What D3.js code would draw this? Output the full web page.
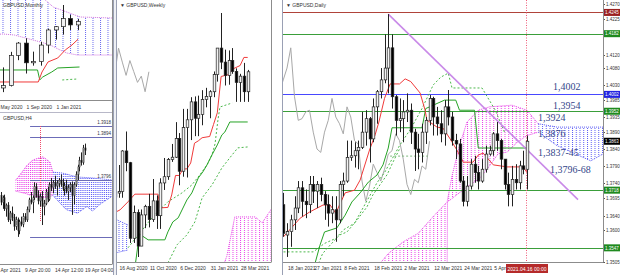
<!DOCTYPE html>
<html>
<head>
<meta charset="utf-8">
<script src="https://cdn.jsdelivr.net/npm/d3@7/dist/d3.min.js"></script>
<style>
body { margin: 0; background: #fff; }
</style>
</head>
<body>
<svg id="chart" width="620" height="275"></svg>
<script>
// ---------------- data ----------------
// monthly GBPUSD
var monthlyDates = ["2020-05","2020-06","2020-07","2020-08","2020-09","2020-10","2020-11","2020-12","2021-01","2021-02","2021-03","2021-04"];
var monthlyOHLC = [
  [1.2470,1.2525,1.2075,1.2345],[1.2345,1.2815,1.2250,1.2400],[1.2400,1.3170,1.2380,1.3090],
  [1.3090,1.3395,1.2980,1.3370],[1.3370,1.3480,1.2675,1.2920],[1.2920,1.3175,1.2855,1.2950],
  [1.2950,1.3400,1.2855,1.3325],[1.3325,1.3700,1.3135,1.3670],[1.3670,1.3760,1.3450,1.3745],
  [1.3745,1.4240,1.3565,1.3930],[1.3930,1.4015,1.3670,1.3785],[1.3785,1.3920,1.3670,1.3863]
];
var monthlyTicks = [["2020-05","May 2020"],["2020-09","1 Sep 2020"],["2021-01","1 Jan 2021"]];
var monthlyTenkan = [[-1,1.2482],[5.7,1.2482],[6.2,1.2710],[7,1.2939],[8.3,1.3030],[9.3,1.3213],[10.2,1.3327],[11,1.3458]];
var monthlyKijun = [[-1,1.2756],[5.6,1.2756],[5.9,1.2530],[6.3,1.2596],[7.5,1.2710],[8.3,1.2802],[11.2,1.2824]];
var monthlyDotted = [[8.9,1.2528],[10.9,1.2550]];
var monthlyCloudTop = [[-1,1.4700],[6,1.4450],[7.7,1.4194],[9.5,1.4080],[11.3,1.3966],[15.5,1.3943]];
var monthlyCloudBottom = [[-1,1.3555],[1,1.3578],[2.5,1.3555],[6,1.3395],[7.3,1.3327],[8.6,1.3213],[9.5,1.3144],[10.9,1.3098],[15.5,1.3098]];

// weekly GBPUSD
var weeklyDates = ["2020-08-09","2020-08-16","2020-08-23","2020-08-30","2020-09-06","2020-09-13","2020-09-20","2020-09-27",
  "2020-10-04","2020-10-11","2020-10-18","2020-10-25","2020-11-01","2020-11-08","2020-11-15","2020-11-22","2020-11-29",
  "2020-12-06","2020-12-13","2020-12-20","2020-12-27","2021-01-03","2021-01-10","2021-01-17","2021-01-24","2021-01-31",
  "2021-02-07","2021-02-14","2021-02-21","2021-02-28","2021-03-07","2021-03-14","2021-03-21","2021-03-28","2021-04-04","2021-04-11"];
var weeklyOHLC = [
  [1.3060,1.3145,1.2980,1.3090],[1.3085,1.3265,1.3055,1.3095],[1.3095,1.3360,1.3055,1.3355],[1.3355,1.3480,1.3225,1.3280],
  [1.3280,1.3285,1.2765,1.2795],[1.2795,1.3005,1.2765,1.2960],[1.2960,1.2980,1.2675,1.2745],[1.2745,1.2980,1.2745,1.2945],
  [1.2945,1.3010,1.2860,1.3000],[1.3000,1.3080,1.2865,1.2915],[1.2915,1.3175,1.2900,1.3035],[1.3035,1.3070,1.2855,1.2940],
  [1.2940,1.3180,1.2855,1.3150],[1.3150,1.3310,1.3105,1.3190],[1.3190,1.3310,1.3170,1.3300],[1.3300,1.3400,1.3285,1.3315],
  [1.3315,1.3540,1.3310,1.3435],[1.3435,1.3470,1.3135,1.3225],[1.3225,1.3625,1.3190,1.3505],[1.3505,1.3625,1.3185,1.3555],
  [1.3555,1.3700,1.3425,1.3670],[1.3670,1.3705,1.3450,1.3565],[1.3565,1.3710,1.3450,1.3590],[1.3590,1.3745,1.3520,1.3685],
  [1.3685,1.3760,1.3635,1.3705],[1.3705,1.3745,1.3565,1.3735],[1.3735,1.3865,1.3700,1.3845],[1.3845,1.4015,1.3800,1.4015],
  [1.4015,1.4240,1.3880,1.3925],[1.3925,1.4005,1.3775,1.3840],[1.3840,1.4000,1.3780,1.3935],[1.3935,1.4015,1.3850,1.3865],
  [1.3865,1.3885,1.3670,1.3795],[1.3795,1.3850,1.3670,1.3835],[1.3835,1.3920,1.3670,1.3735],[1.3735,1.3875,1.3670,1.3863]
];
var weeklyTicks = [["2020-08-16","16 Aug 2020"],["2020-10-11","11 Oct 2020"],["2020-12-06","6 Dec 2020"],["2021-01-31","31 Jan 2021"],["2021-03-28","28 Mar 2021"]];
var weeklyTenkan = [[0,1.2960],[1.4,1.2977],[3.5,1.3029],[5.3,1.3078],[11.4,1.3078],[11.9,1.2990],[14,1.2993],[15,1.3073],[16,1.3198],[17,1.3198],
  [18,1.3240],[19,1.3240],[20,1.3278],[21,1.3405],[22,1.3420],[23,1.3440],[25,1.3448],[26,1.3525],[27,1.3600],[28,1.3833],[30,1.3845],
  [31,1.3880],[33,1.3903],[34,1.3955],[35,1.3955]];
var weeklyKijun = [[5.5,1.2640],[6.5,1.2823],[8.8,1.2785],[13.2,1.2785],[14,1.2836],[15.3,1.2900],[16.7,1.2926],[19,1.3041],[20.3,1.3086],
  [22,1.3182],[23.2,1.3221],[24.3,1.3266],[25.6,1.3330],[27,1.3394],[28.2,1.3458],[29,1.3477],[30.3,1.3541],[35,1.3541]];
var weeklyDotA = [[3.5,1.2734],[9.8,1.2926],[14,1.3029],[17.7,1.3086],[20.3,1.3137],[22.4,1.3202],[24.3,1.3266],[25.6,1.3330],[26.4,1.3400],
  [27.2,1.3560],[27.7,1.3637],[30.9,1.3663]];
var weeklyDotB = [[14,1.2637],[16.4,1.2753],[19,1.2817],[21.1,1.2900],[23,1.3054],[25.6,1.3137],[28.2,1.3246],[30.9,1.3330],[32.4,1.3375],[35,1.3381]];
var weeklyPinkTop = [[28,1.2580],[29.5,1.2680],[30.5,1.2800],[31.6,1.2932],[37,1.2932],[38.8,1.2894],[42,1.3010]];
var weeklyPinkBottom = [[28,1.2580],[42,1.2580]];
var weeklyBlueTop = [[0,1.2920],[3.5,1.2880]];
var weeklyBlueBottom = [[0,1.2700],[3.5,1.2720]];

// daily GBPUSD
var dailyDates = ["2021-01-14","2021-01-15","2021-01-18","2021-01-19","2021-01-20","2021-01-21","2021-01-22","2021-01-25","2021-01-26",
  "2021-01-27","2021-01-28","2021-01-29","2021-02-01","2021-02-02","2021-02-03","2021-02-04","2021-02-05","2021-02-08","2021-02-09",
  "2021-02-10","2021-02-11","2021-02-12","2021-02-15","2021-02-16","2021-02-17","2021-02-18","2021-02-19","2021-02-22","2021-02-23",
  "2021-02-24","2021-02-25","2021-02-26","2021-03-01","2021-03-02","2021-03-03","2021-03-04","2021-03-05","2021-03-08","2021-03-09",
  "2021-03-10","2021-03-11","2021-03-12","2021-03-15","2021-03-16","2021-03-17","2021-03-18","2021-03-19","2021-03-22","2021-03-23",
  "2021-03-24","2021-03-25","2021-03-26","2021-03-29","2021-03-30","2021-03-31","2021-04-01","2021-04-02","2021-04-05","2021-04-06",
  "2021-04-07","2021-04-08","2021-04-09","2021-04-12","2021-04-13","2021-04-14","2021-04-15","2021-04-16"];
var dailyOHLC = [
  [1.3665,1.3710,1.3605,1.3675],[1.3675,1.3710,1.3580,1.3590],[1.3585,1.3620,1.3520,1.3595],[1.3595,1.3645,1.3550,1.3630],
  [1.3630,1.3700,1.3600,1.3665],[1.3665,1.3745,1.3650,1.3725],[1.3725,1.3745,1.3640,1.3685],[1.3685,1.3720,1.3635,1.3675],
  [1.3675,1.3760,1.3650,1.3735],[1.3735,1.3760,1.3680,1.3715],[1.3715,1.3745,1.3665,1.3735],[1.3735,1.3755,1.3685,1.3705],
  [1.3705,1.3715,1.3630,1.3675],[1.3675,1.3705,1.3610,1.3650],[1.3650,1.3700,1.3620,1.3660],[1.3660,1.3700,1.3565,1.3630],
  [1.3630,1.3745,1.3620,1.3735],[1.3735,1.3770,1.3700,1.3745],[1.3745,1.3865,1.3740,1.3815],[1.3815,1.3865,1.3805,1.3820],
  [1.3820,1.3860,1.3785,1.3835],[1.3835,1.3865,1.3780,1.3845],[1.3845,1.3950,1.3840,1.3890],[1.3890,1.3955,1.3850,1.3930],
  [1.3930,1.3935,1.3800,1.3870],[1.3870,1.3990,1.3860,1.3965],[1.3965,1.4015,1.3915,1.4010],[1.4010,1.4080,1.3990,1.4045],
  [1.4045,1.4180,1.4035,1.4080],[1.4080,1.4240,1.4005,1.4140],[1.4140,1.4180,1.3960,1.3995],[1.3995,1.4000,1.3880,1.3925],
  [1.3925,1.3990,1.3890,1.3930],[1.3930,1.3985,1.3860,1.3950],[1.3950,1.4005,1.3920,1.3955],[1.3955,1.3975,1.3855,1.3890],
  [1.3890,1.3900,1.3775,1.3840],[1.3840,1.3885,1.3780,1.3830],[1.3830,1.3915,1.3800,1.3890],[1.3890,1.3935,1.3855,1.3925],
  [1.3925,1.4000,1.3910,1.3990],[1.3990,1.3995,1.3880,1.3935],[1.3935,1.3965,1.3880,1.3915],[1.3915,1.3955,1.3860,1.3885],
  [1.3885,1.3985,1.3850,1.3965],[1.3965,1.4015,1.3910,1.3935],[1.3935,1.3950,1.3850,1.3865],[1.3865,1.3885,1.3810,1.3855],
  [1.3855,1.3870,1.3740,1.3745],[1.3745,1.3760,1.3670,1.3685],[1.3685,1.3760,1.3670,1.3730],[1.3730,1.3810,1.3720,1.3795],
  [1.3795,1.3820,1.3740,1.3770],[1.3770,1.3790,1.3720,1.3745],[1.3745,1.3810,1.3740,1.3780],[1.3780,1.3850,1.3770,1.3825],
  [1.3825,1.3850,1.3820,1.3835],[1.3835,1.3890,1.3820,1.3885],[1.3885,1.3920,1.3835,1.3865],[1.3865,1.3870,1.3780,1.3810],
  [1.3810,1.3810,1.3720,1.3735],[1.3735,1.3770,1.3670,1.3705],[1.3705,1.3790,1.3670,1.3750],[1.3750,1.3795,1.3720,1.3740],
  [1.3740,1.3805,1.3720,1.3790],[1.3790,1.3835,1.3765,1.3780],[1.3780,1.3880,1.3720,1.3863]
];
var dailyTicks = [["2021-01-18","18 Jan 2021"],["2021-01-27","27 Jan 2021"],["2021-02-08","8 Feb 2021"],["2021-02-18","18 Feb 2021"],
  ["2021-03-02","2 Mar 2021"],["2021-03-12","12 Mar 2021"],["2021-03-24","24 Mar 2021"],["2021-04-05","5 Apr 2021"]];
var dailyCursorDate = "2021-04-16";
var dailyCursorLabel = "2021.04.16 00:00";
var dailyPriceTicks = [1.4270,1.4225,1.4120,1.4080,1.4030,1.3985,1.3935,1.3890,1.3840,1.3790,1.3740,1.3695,1.3640,1.3600,1.3505];
var dailyLevels = [1.4245,1.4182,1.4002,1.3952,1.3718,1.3547];
var dailyLastPrice = 1.3863;
var dailyTrend = [[29,1.4240],[79.6,1.3690]];
var dailyNotes = [["1,4002",72.9,1.4024],["1,3954",72.9,1.3970],["1,3924",68.9,1.3932],["1,3876",68.9,1.3887],
  ["1,3837-45",68.9,1.3831],["1,3796-68",72.1,1.3778]];
var dailyTenkan = [[1,1.3579],[5.5,1.3635],[8,1.3653],[11.6,1.3674],[13.5,1.3674],[15,1.3650],[17.5,1.3710],[20,1.3718],[21.5,1.3748],
  [24,1.3837],[25.5,1.3882],[26.5,1.3920],[28,1.3990],[29.5,1.4033],[32,1.4033],[33.5,1.4048],[35,1.4040],[37.5,1.4006],[38.8,1.3956],
  [39.3,1.3926],[42,1.3905],[43.6,1.3902],[45.5,1.3870],[47.3,1.3837],[49,1.3801],[51.6,1.3801],[53,1.3822],[54.3,1.3828],[57,1.3793],
  [60.7,1.3787],[65,1.3787],[66,1.3770]];
var dailyKijun = [[9,1.3490],[9.5,1.3502],[10.8,1.3555],[12,1.3594],[15.3,1.3606],[17.5,1.3644],[19.3,1.3683],[21.5,1.3710],[23.7,1.3742],
  [26,1.3763],[27.6,1.3793],[29,1.3843],[30,1.3903],[38,1.3903],[39,1.3960],[44,1.3985],[47,1.3985],[48,1.3955],[52,1.3955],[53,1.3843],[66,1.3843]];
var dailyDotA = [[0,1.3535],[9,1.3535],[12,1.3560],[15,1.3575],[17,1.3600],[20,1.3620],[22,1.3660],[24,1.3700],[26,1.3740],[28,1.3770],
  [30,1.3810],[32,1.3850],[35,1.3900],[38,1.3960],[41,1.4030],[43,1.4053],[45,1.4065],[46,1.4021],[54,1.4021],[57.5,1.3956],[60,1.3890]];
var dailyDotB = [[10,1.3490],[11.5,1.3530],[13.5,1.3555],[16,1.3585],[18,1.3594],[20.7,1.3630],[23.3,1.3668],[24.9,1.3704],[26.8,1.3734],
  [28.7,1.3764],[30.3,1.3802],[32,1.3840]];
var dailyDotC = [[29.5,1.3819],[39.5,1.3819]];
var dailyPinkTop = [[26,1.3490],[29,1.3530],[33,1.3565],[37,1.3590],[41,1.3640],[44.7,1.3683],[46,1.3760],[48,1.3850],[50,1.3920],
  [53,1.3955],[56,1.3965],[62,1.3970],[66,1.3955],[69,1.3915]];
var dailyPinkBottom = [[26,1.3480],[44.7,1.3480],[44.8,1.3683],[48.4,1.3714],[51,1.3735],[53.5,1.3754],[56,1.3790],[58.3,1.3826],
  [60.7,1.3831],[63.4,1.3860],[66,1.3880],[69,1.3890]];
var dailyBlueTop = [[69,1.3915],[74,1.3905],[87,1.3905]];
var dailyBlueBottom = [[69,1.3890],[74,1.3850],[80,1.3820],[83,1.3805],[87,1.3830]];

// H4 GBPUSD (first row is bar -13, bar 0 = 9 Apr 20:00)
var h4FirstBar = -13;
var h4OHLC = [
  [1.3760,1.3768,1.3738,1.3745],[1.3745,1.3760,1.3730,1.3755],[1.3755,1.3762,1.3725,1.3730],[1.3730,1.3742,1.3712,1.3738],
  [1.3738,1.3745,1.3700,1.3705],[1.3705,1.3725,1.3695,1.3720],[1.3720,1.3735,1.3702,1.3710],[1.3710,1.3718,1.3680,1.3690],
  [1.3690,1.3712,1.3682,1.3705],[1.3705,1.3710,1.3666,1.3680],[1.3680,1.3705,1.3672,1.3700],[1.3700,1.3712,1.3690,1.3695],
  [1.3695,1.3720,1.3688,1.3712],[1.3712,1.3720,1.3700,1.3705],[1.3705,1.3735,1.3700,1.3728],[1.3728,1.3755,1.3722,1.3750],
  [1.3750,1.3768,1.3740,1.3745],[1.3745,1.3760,1.3720,1.3755],[1.3755,1.3790,1.3750,1.3780],[1.3780,1.3788,1.3755,1.3760],
  [1.3760,1.3772,1.3740,1.3748],[1.3748,1.3765,1.3735,1.3758],[1.3758,1.3770,1.3693,1.3735],[1.3735,1.3750,1.3715,1.3742],
  [1.3742,1.3775,1.3738,1.3768],[1.3768,1.3780,1.3745,1.3752],[1.3752,1.3790,1.3748,1.3785],[1.3785,1.3800,1.3770,1.3778],
  [1.3778,1.3795,1.3765,1.3790],[1.3790,1.3805,1.3775,1.3782],[1.3782,1.3795,1.3760,1.3788],[1.3788,1.3800,1.3778,1.3795],
  [1.3795,1.3808,1.3780,1.3785],[1.3785,1.3798,1.3770,1.3775],[1.3775,1.3790,1.3760,1.3782],[1.3782,1.3796,1.3765,1.3770],
  [1.3770,1.3785,1.3750,1.3778],[1.3778,1.3790,1.3768,1.3785],[1.3785,1.3792,1.3716,1.3760],[1.3760,1.3790,1.3740,1.3785],
  [1.3785,1.3815,1.3780,1.3808],[1.3808,1.3830,1.3795,1.3825],[1.3825,1.3848,1.3815,1.3840],[1.3840,1.3858,1.3828,1.3835],
  [1.3835,1.3875,1.3830,1.3868],[1.3868,1.3878,1.3852,1.3863]
];
var h4Ticks = [[-13.3,"Apr 2021"],[0,"9 Apr 20:00"],[16,"14 Apr 12:00"],[32,"19 Apr 04:00"]];
var h4Levels = [1.3918,1.3894,1.3796];
var h4LowLevel = 1.3666;
var h4LevelStart = 2.7;
var h4MarkBar = 8;
var h4MarkRange = [1.3918, 1.3700];
var h4PinkTop = [[-5,1.3795],[-2.7,1.3807],[1.1,1.3829],[4.3,1.3841],[9.6,1.3848],[13.3,1.3836],[14.9,1.3813]];
var h4PinkBottom = [[-5,1.3770],[0,1.3765],[5,1.3758],[10,1.3755],[14.9,1.3760]];
var h4BlueTop = [[14.9,1.3813],[20,1.3811],[28,1.3802],[36,1.3800],[47,1.3795]];
var h4BlueBottom = [[14.9,1.3760],[22,1.3728],[28,1.3720],[33,1.3735],[36,1.3725],[40,1.3740],[47,1.3760]];

// ---------------- drawing ----------------
var svg = d3.select("#chart");
var defs = svg.append("defs");
svg.append("rect").attr("width", 620).attr("height", 275).attr("fill", "#fff");

function hatch(id, color, step, x0) {
  var p = defs.append("pattern").attr("id", id)
    .attr("patternUnits", "userSpaceOnUse")
    .attr("width", step).attr("height", 2)
    .attr("patternTransform", "translate(" + x0 + ",0)");
  p.append("rect").attr("width", 1).attr("height", 1).attr("fill", color);
}

function panel(id, x, y, w, h) {
  defs.append("clipPath").attr("id", id).append("rect")
    .attr("x", x).attr("y", y).attr("width", w).attr("height", h);
  return svg.append("g").attr("clip-path", "url(#" + id + ")");
}

function polyline(g, pts, x, y, color, dash, w) {
  g.append("path").datum(pts)
    .attr("d", d3.line().x(function(d){ return x(d[0]); }).y(function(d){ return y(d[1]); }))
    .attr("fill", "none").attr("stroke", color)
    .attr("stroke-width", w || 1)
    .attr("stroke-dasharray", dash || null);
}

function cloud(g, top, bottom, x, y, fill, edge) {
  var pts = top.concat(bottom.slice().reverse());
  var line = d3.line().x(function(d){ return x(d[0]); }).y(function(d){ return y(d[1]); });
  g.append("path").datum(pts).attr("d", line(pts) + "Z").attr("fill", "url(#" + fill + ")");
  polyline(g, top, x, y, edge, "1,1", 1);
  polyline(g, bottom, x, y, edge, "1,1", 1);
}

function candles(g, rows, first, x, y, bw) {
  var c = g.append("g").selectAll("g").data(rows).enter().append("g");
  c.append("line")
    .attr("x1", function(d, i){ return Math.round(x(i + first)) + 0.5; })
    .attr("x2", function(d, i){ return Math.round(x(i + first)) + 0.5; })
    .attr("y1", function(d){ return y(d[1]); })
    .attr("y2", function(d){ return y(d[2]); })
    .attr("stroke", "#222").attr("stroke-width", 1);
  c.append("rect")
    .attr("x", function(d, i){ return Math.round(x(i + first)) + 0.5 - bw / 2; })
    .attr("y", function(d){ return y(Math.max(d[0], d[3])); })
    .attr("width", bw)
    .attr("height", function(d){ return Math.max(0.8, y(Math.min(d[0], d[3])) - y(Math.max(d[0], d[3]))); })
    .attr("fill", function(d){ return d[3] >= d[0] ? "#f2f2f2" : "#000"; })
    .attr("stroke", "#222").attr("stroke-width", 0.7);
}

function chikou(rows, shift) {
  var out = [];
  for (var i = 0; i + shift < rows.length; i++) out.push([i, rows[i + shift][3]]);
  return out;
}

function label(x, y, txt, opts) {
  opts = opts || {};
  return svg.append("text").attr("x", x).attr("y", y).text(txt)
    .style("font-family", opts.family || "'Liberation Sans', Arial, sans-serif")
    .attr("font-size", opts.size || 5)
    .attr("fill", opts.fill || "#333")
    .attr("text-anchor", opts.anchor || "start");
}

var RED = "#f03a3a", GREEN = "#26a326", DOT = "#4cb84c", GREY = "#a8a8a8", PINK = "#e83ee8", BLUE = "#5a5af5";

// ---------- monthly (top left) ----------
var xM = d3.scaleLinear().domain([4, 11]).range([25.5, 78]);
var yM = d3.scaleLinear().domain([1.4240, 1.2075]).range([5, 99.8]);
hatch("hM", "#6a6af0", 7.5, 2.5);
var gM = panel("cM", 0, 0, 112, 100);
cloud(gM, monthlyCloudTop, monthlyCloudBottom, xM, yM, "hM", "#d070e0");
polyline(gM, monthlyDotted, xM, yM, DOT, "2,2", 1);
polyline(gM, monthlyKijun, xM, yM, GREEN, null, 1);
polyline(gM, monthlyTenkan, xM, yM, RED, null, 1);
candles(gM, monthlyOHLC, 0, xM, yM, 4);
label(3, 7, "GBPUSD,Monthly");
monthlyTicks.forEach(function(t){
  label(Math.max(0.5, xM(monthlyDates.indexOf(t[0])) + 1), 108.5, t[1]);
});

// ---------- H4 (bottom left) ----------
var xH = d3.scaleLinear().domain([0, 32]).range([25, 85]);
var yH = d3.scaleLinear().domain([1.3918, 1.3666]).range([126, 236.9]);
hatch("hHp", PINK, 1.875, 0);
hatch("hHb", BLUE, 1.875, 1);
var gH = panel("cH", 0, 113, 112, 151);
cloud(gH, h4PinkTop, h4PinkBottom, xH, yH, "hHp", PINK);
cloud(gH, h4BlueTop, h4BlueBottom, xH, yH, "hHb", BLUE);
h4Levels.concat([h4LowLevel]).forEach(function(v){
  gH.append("line").attr("x1", xH(h4LevelStart)).attr("x2", 112)
    .attr("y1", Math.round(yH(v)) + 0.5).attr("y2", Math.round(yH(v)) + 0.5)
    .attr("stroke", "#6c6cb8").attr("stroke-width", 1);
});
gH.append("line").attr("x1", xH(h4MarkBar) + 0.5).attr("x2", xH(h4MarkBar) + 0.5)
  .attr("y1", yH(h4MarkRange[0])).attr("y2", yH(h4MarkRange[1]))
  .attr("stroke", "#f04a6a").attr("stroke-dasharray", "1,1");
candles(gH, h4OHLC, h4FirstBar, xH, yH, 1);
h4Levels.forEach(function(v){
  label(111, yH(v) - 2, v.toFixed(4), {size: 4.5, anchor: "end", fill: "#334"});
});
label(3, 120, "GBPUSD,H4");
h4Ticks.forEach(function(t){ label(Math.max(0.5, xH(t[0])), 272, t[1]); });

// ---------- weekly (middle) ----------
var xW = d3.scaleLinear().domain([1, 35]).range([118.5, 247.7]);
var yW = d3.scaleLinear().domain([1.4240, 1.2675]).range([13, 257]);
hatch("hWp", PINK, 3.8, 118.5);
hatch("hWb", BLUE, 3.8, 118.5);
var gW = panel("cW", 117, 0, 154, 262);
cloud(gW, weeklyPinkTop, weeklyPinkBottom, xW, yW, "hWp", PINK);
cloud(gW, weeklyBlueTop, weeklyBlueBottom, xW, yW, "hWb", BLUE);
polyline(gW, chikou(weeklyOHLC, 26), xW, yW, GREY, null, 1);
polyline(gW, weeklyDotB, xW, yW, DOT, "2,2", 1);
polyline(gW, weeklyDotA, xW, yW, DOT, "2,2", 1);
polyline(gW, weeklyKijun, xW, yW, GREEN, null, 1);
polyline(gW, weeklyTenkan, xW, yW, RED, null, 1);
candles(gW, weeklyOHLC, 0, xW, yW, 2.6);
label(120, 7, "\u25BC GBPUSD,Weekly");
weeklyTicks.forEach(function(t){ label(xW(weeklyDates.indexOf(t[0])) + 1, 270, t[1]); });

// ---------- daily (right) ----------
var xD = d3.scaleLinear().domain([2, 66]).range([287, 527]);
var yD = d3.scaleLinear().domain([1.3505, 1.4270]).range([262, 4]);
hatch("hDp", PINK, 3.75, 287);
hatch("hDb", BLUE, 3.75, 287);
var gD = panel("cD", 283, 0, 320, 262);
cloud(gD, dailyPinkTop, dailyPinkBottom, xD, yD, "hDp", PINK);
cloud(gD, dailyBlueTop, dailyBlueBottom, xD, yD, "hDb", BLUE);
var levelColors = ["#b0433a", "#3a9e3a", "#4848ff", "#3a9e3a", "#3a9e3a", "#3a9e3a"];
dailyLevels.forEach(function(v, i){
  gD.append("line").attr("x1", 283).attr("x2", 603)
    .attr("y1", Math.round(yD(v)) + 0.5).attr("y2", Math.round(yD(v)) + 0.5)
    .attr("stroke", levelColors[i]).attr("stroke-width", 1.2);
});
polyline(gD, chikou(dailyOHLC, 26), xD, yD, GREY, null, 1);
polyline(gD, dailyDotC, xD, yD, "#7cb87c", "2,2", 1);
polyline(gD, dailyDotB, xD, yD, DOT, "2,2", 1);
polyline(gD, dailyDotA, xD, yD, DOT, "2,2", 1);
polyline(gD, dailyKijun, xD, yD, GREEN, null, 1);
polyline(gD, dailyTenkan, xD, yD, RED, null, 1);
polyline(gD, dailyTrend, xD, yD, "#c98ae8", null, 1.6);
var cur = dailyDates.indexOf(dailyCursorDate);
gD.append("line").attr("x1", xD(cur) - 0.5).attr("x2", xD(cur) - 0.5).attr("y1", 0).attr("y2", 262)
  .attr("stroke", "#f05a78").attr("stroke-dasharray", "1,1.5");
candles(gD, dailyOHLC, 0, xD, yD, 2.6);
dailyNotes.forEach(function(n){
  label(xD(n[1]), yD(n[2]) + 3.5, n[0], {family: "'Liberation Serif', 'Times New Roman', serif", size: 10, fill: "#34468a"});
});
label(286, 7, "\u25BC GBPUSD,Daily");

// right price axis
dailyPriceTicks.forEach(function(v){
  svg.append("line").attr("x1", 603).attr("x2", 605).attr("y1", Math.round(yD(v)) + 0.5).attr("y2", Math.round(yD(v)) + 0.5).attr("stroke", "#555");
  label(606, yD(v) + 2, v.toFixed(4), {size: 4.5});
});
var tagColors = ["#9a1f1f", "#1f8a1f", "#2222e0", "#1f8a1f", "#1f8a1f", "#1f8a1f"];
dailyLevels.concat([dailyLastPrice]).forEach(function(v, i){
  var c = i < tagColors.length ? tagColors[i] : "#000";
  svg.append("rect").attr("x", 604).attr("y", yD(v) - 3.5).attr("width", 16).attr("height", 7).attr("fill", c);
  label(605, yD(v) + 1.8, v.toFixed(4), {size: 4.5, fill: "#fff"});
});

// time axis (the cursor box sits on top of the last date label, as in the terminal)
dailyTicks.forEach(function(t){ label(xD(dailyDates.indexOf(t[0])) + 1, 270, t[1]); });
svg.append("rect").attr("x", xD(cur) - 21).attr("y", 264).attr("width", 42).attr("height", 9).attr("fill", "#b52a2a");
label(xD(cur), 270.5, dailyCursorLabel, {fill: "#fff", anchor: "middle"});

// ---------- frames ----------
function hline(x1, x2, y, c) { svg.append("line").attr("x1", x1).attr("x2", x2).attr("y1", y).attr("y2", y).attr("stroke", c || "#8c8c8c"); }
function vline(x, y1, y2, c) { svg.append("line").attr("x1", x).attr("x2", x).attr("y1", y1).attr("y2", y2).attr("stroke", c || "#8c8c8c"); }
hline(0, 112, 100.5);
hline(0, 113, 112.5, "#b8b8c8");
vline(112.5, 0, 264.5);
hline(0, 112, 264.5);
svg.append("rect").attr("x", 113).attr("y", 0).attr("width", 4).attr("height", 275).attr("fill", "#eef0f4");
vline(113.5, 0, 275, "#9aa0b4");
vline(116.5, 0, 275, "#9aa0b4");
hline(117, 271, 262.5);
vline(271.5, 0, 262.5);
svg.append("rect").attr("x", 272).attr("y", 0).attr("width", 10).attr("height", 275).attr("fill", "#fff");
vline(282.5, 0, 275, "#9aa0b4");
hline(283, 603, 262.5);
vline(603.5, 0, 262.5);
</script>
</body>
</html>
